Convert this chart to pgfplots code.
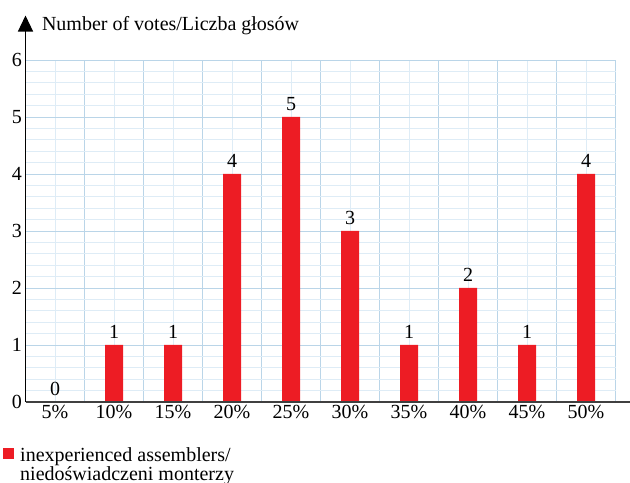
\documentclass[border=0pt]{standalone}
\usepackage{fontspec}
\setmainfont{Liberation Serif}
\usepackage{pgfplots}
\pgfplotsset{compat=1.18}
\usetikzlibrary{arrows.meta}

\definecolor{barred}{RGB}{237,28,36}
\definecolor{gridmajor}{RGB}{186,213,232}
\definecolor{gridminor}{RGB}{222,236,246}

\newcommand{\chartfont}{\fontsize{20bp}{17bp}\selectfont}
\newcommand{\legendfont}{\fontsize{20bp}{16bp}\selectfont}

\begin{document}
\begin{tikzpicture}[font=\chartfont]
\begin{axis}[
  anchor=origin, at={(0,0)},
  x=59bp, y=57bp,
  xmin=-0.5, xmax=9.5, ymin=0, ymax=6,
  clip=false,
  axis line style={draw=none},
  /pgf/number format/assume math mode=true,
  ticklabel style={font=\chartfont},
  xtick={0,...,9},
  xticklabels={5\%,10\%,15\%,20\%,25\%,30\%,35\%,40\%,45\%,50\%},
  minor xtick={-0.5,0.5,...,9.5},
  ytick={0,...,6},
  minor y tick num=4,
  major tick length=0pt, minor tick length=0pt,
  xmajorgrids, xminorgrids, ymajorgrids, yminorgrids,
  major x grid style={gridminor, line width=0.7bp},
  minor x grid style={gridmajor, line width=0.8bp},
  major y grid style={gridmajor, line width=0.8bp},
  minor y grid style={gridminor, line width=0.7bp},
  every axis y label/.style={at={(rel axis cs:0,1)}, anchor=base west, xshift=13bp, yshift=29bp},
  ylabel={Number of votes/Liczba głosów},
  legend style={at={(rel axis cs:0,0)}, anchor=north west, xshift=-23bp, yshift=-43.5bp,
    draw=none, fill=none, inner sep=0pt, column sep=4bp,
    font=\legendfont},
  legend cell align=left,
  ybar, bar width=18bp,
  nodes near coords,
  nodes near coords style={font=\chartfont, anchor=south, inner sep=6bp},
]
% votes per percentage class
\addplot[fill=barred, draw=none,
  legend image code/.code={\fill[barred] (0bp,-4bp) rectangle (11.5bp,7.5bp);}] coordinates {
  (0,0) (1,1) (2,1) (3,4) (4,5) (5,3) (6,1) (7,2) (8,1) (9,4)
};
\addlegendentry{\begin{tabular}[t]{@{}l@{}}inexperienced assemblers/\\niedoświadczeni monterzy\end{tabular}}

% axis lines drawn on top of the grid
\draw[line width=1.2bp, black!75] (axis cs:-0.5,0) -- (axis cs:9.76,0);
\draw[line width=1.4bp, -{Triangle[length=16bp,width=15bp]}] (axis cs:-0.5,0) -- (axis cs:-0.5,6.78);
\end{axis}
\pgfresetboundingbox
\path (-55bp,-81bp) rectangle (575bp,402bp);
\end{tikzpicture}
\end{document}
